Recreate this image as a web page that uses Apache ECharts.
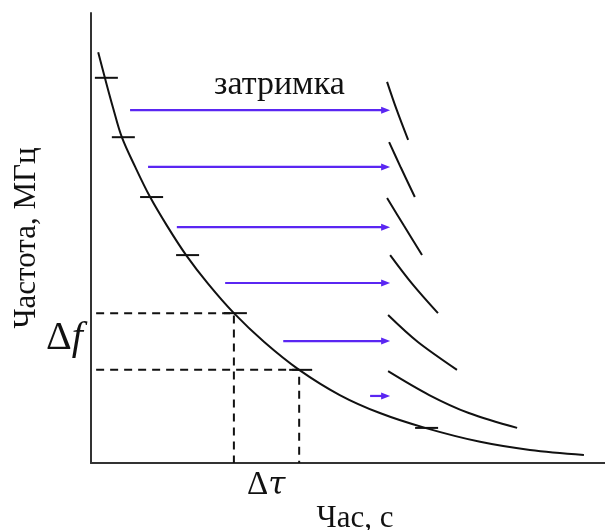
<!DOCTYPE html>
<html>
<head>
<meta charset="utf-8">
<script src="https://cdn.jsdelivr.net/npm/echarts@6/dist/echarts.min.js"></script>
<style>
  html, body { margin: 0; padding: 0; background: #ffffff; }
  #chart { width: 605px; height: 530px; }
</style>
</head>
<body>
<div id="chart"></div>
<script>
// Dispersion curve: frequency falls as time grows
const curveX = [1.4, 2.7, 4.3, 6.0, 8.6, 11.5, 14.8, 18.5, 22.8, 27.8, 33.7, 40.5, 48.4, 56.2, 65.0, 75.7, 85.4, 95.9];
const curveY = [91.3, 85.6, 78.9, 72.4, 65.8, 59.1, 52.7, 46.2, 39.8, 33.3, 26.9, 20.7, 15.1, 11.1, 7.8, 4.7, 2.9, 1.8];

// Band boundaries marked on the curve (time, frequency)
const bandX = [2.7, 6.0, 11.5, 18.5, 27.8, 40.5, 65.0];
const bandY = [85.6, 72.4, 59.1, 46.2, 33.3, 20.7, 7.8];

// Delay arrows: start time, end time, frequency
const arrowStart = [7.6, 11.1, 16.7, 26.1, 37.4, 54.3];
const arrowEnd = [58.2, 58.2, 58.2, 58.2, 58.2, 58.2];
const arrowY = [78.4, 65.8, 52.4, 40.0, 27.1, 14.9];

// Delayed pieces of the curve, one per band
const delayed = [
  [[57.6, 84.7], [59.5, 78.4], [61.7, 71.8]],
  [[58.0, 71.3], [60.3, 65.6], [63.0, 59.1]],
  [[57.6, 58.9], [60.9, 52.7], [64.4, 46.2]],
  [[58.2, 46.2], [62.5, 39.8], [67.5, 33.3]],
  [[57.8, 32.9], [63.6, 26.9], [71.2, 20.7]],
  [[57.8, 20.4], [65.8, 15.1], [73.5, 11.1], [82.9, 7.8]]
];

// Δf / Δτ guide corners on the curve
const guideX = [27.8, 40.5];
const guideY = [33.3, 20.7];
const guideStartX = 1;

const serif = '"Liberation Serif", "DejaVu Serif", serif';
const ink = '#111111';
const arrowColor = '#5a26f2';

const chart = echarts.init(document.getElementById('chart'), null, { renderer: 'canvas' });

const series = [];

series.push({
  type: 'line',
  data: curveX.map((x, i) => [x, curveY[i]]),
  smooth: 0.35,
  symbol: 'none',
  lineStyle: { color: ink, width: 2 },
  z: 5
});

delayed.forEach(seg => {
  series.push({
    type: 'line',
    data: seg,
    smooth: 0.35,
    symbol: 'none',
    lineStyle: { color: ink, width: 2 },
    z: 5
  });
});

guideX.forEach((gx, i) => {
  series.push({
    type: 'line',
    data: [[guideStartX, guideY[i]], [gx, guideY[i]], [gx, 0]],
    symbol: 'none',
    lineStyle: { color: ink, width: 2, type: [8, 6] },
    z: 4
  });
});

series.push({
  type: 'custom',
  data: bandX.map((x, i) => [x, bandY[i]]),
  renderItem: function (params, api) {
    const p = api.coord([api.value(0), api.value(1)]);
    return {
      type: 'line',
      shape: { x1: p[0] - 10, y1: p[1], x2: p[0] + 13, y2: p[1] },
      style: { stroke: ink, lineWidth: 2 }
    };
  },
  z: 6
});

series.push({
  type: 'custom',
  data: arrowStart.map((x, i) => [x, arrowEnd[i], arrowY[i]]),
  renderItem: function (params, api) {
    const a = api.coord([api.value(0), api.value(2)]);
    const b = api.coord([api.value(1), api.value(2)]);
    const head = 9, half = 3.5;
    return {
      type: 'group',
      children: [
        {
          type: 'line',
          shape: { x1: a[0], y1: a[1], x2: b[0] - head + 1, y2: b[1] },
          style: { stroke: arrowColor, lineWidth: 2.2 }
        },
        {
          type: 'polygon',
          shape: { points: [[b[0], b[1]], [b[0] - head, b[1] - half], [b[0] - head, b[1] + half]] },
          style: { fill: arrowColor }
        }
      ]
    };
  },
  z: 6
});

chart.setOption({
  animation: false,
  backgroundColor: '#ffffff',
  grid: { left: 91, right: 0, top: 13, bottom: 67, containLabel: false, outerBoundsMode: 'none' },
  xAxis: {
    type: 'value', min: 0, max: 100,
    name: 'Час, с',
    nameLocation: 'middle',
    nameGap: 40,
    nameTextStyle: { fontFamily: serif, fontSize: 31, color: ink, padding: [0, 0, 0, 14] },
    axisLine: { show: true, lineStyle: { color: '#333333', width: 2 } },
    axisTick: { show: false },
    axisLabel: { show: false },
    splitLine: { show: false }
  },
  yAxis: {
    type: 'value', min: 0, max: 100,
    name: 'Частота, МГц',
    nameLocation: 'middle',
    nameGap: 49,
    nameRotate: 90,
    nameTextStyle: { fontFamily: serif, fontSize: 31, color: ink },
    axisLine: { show: true, lineStyle: { color: '#333333', width: 2 } },
    axisTick: { show: false },
    axisLabel: { show: false },
    splitLine: { show: false }
  },
  graphic: [
    {
      type: 'text', left: 214, top: 68,
      style: { text: 'затримка', font: '34px ' + serif, fill: ink }
    },
    {
      type: 'text', left: 46, top: 318,
      style: {
        text: '{d|Δ}{f|f}',
        rich: {
          d: { font: '40px ' + serif, fill: ink },
          f: { font: 'italic 40px ' + serif, fill: ink }
        }
      }
    },
    {
      type: 'text', left: 247, top: 469,
      style: {
        text: '{d|Δ}{t|τ}',
        rich: {
          d: { font: '33px ' + serif, fill: ink },
          t: { font: 'italic 31px "DejaVu Serif", serif', fill: ink }
        }
      }
    }
  ],
  series: series
});
</script>
</body>
</html>
